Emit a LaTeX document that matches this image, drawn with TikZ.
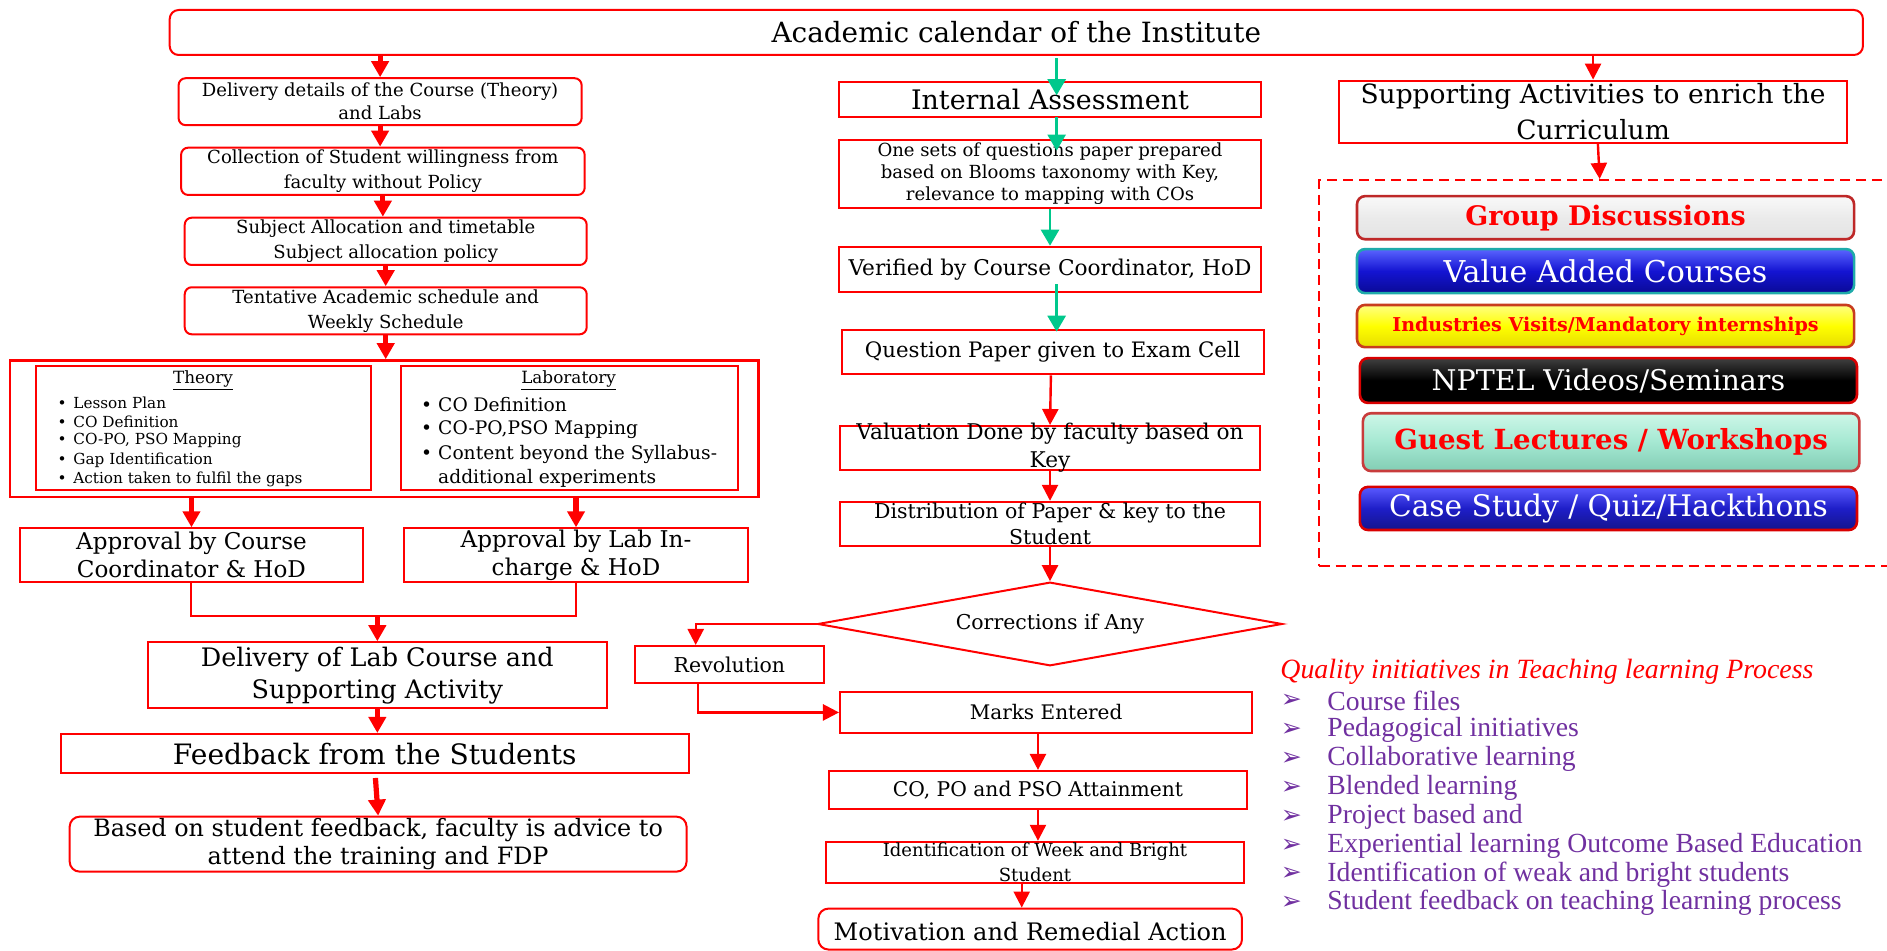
\documentclass[tikz,border=0pt]{standalone}
\usepackage{fontspec}
\setmainfont{DejaVu Serif}
\newfontfamily\listfont{Liberation Serif}
\newfontfamily\symfont{DejaVu Sans}
\usetikzlibrary{arrows.meta,shapes.geometric,fit,calc}
\definecolor{arrowgreen}{RGB}{0,200,140}
\definecolor{listpurple}{RGB}{112,48,160}
\definecolor{gdborder}{RGB}{190,40,40}
\definecolor{vaborder}{RGB}{30,170,170}
\definecolor{vatop}{RGB}{90,100,255}
\definecolor{vamid}{RGB}{20,20,210}
\definecolor{vabot}{RGB}{10,10,150}
\definecolor{ivborder}{RGB}{200,60,30}
\definecolor{ivtop}{RGB}{255,255,130}
\definecolor{ivbot}{RGB}{230,220,0}
\definecolor{gltop}{RGB}{205,247,232}
\definecolor{glmid}{RGB}{165,232,210}
\definecolor{glbot}{RGB}{130,205,180}
\definecolor{glborder}{RGB}{200,60,60}
\definecolor{cstop}{RGB}{90,90,255}
\definecolor{csmid}{RGB}{30,30,200}
\definecolor{csbot}{RGB}{20,20,140}
\newcommand{\fsz}[2]{\fontsize{#1pt}{#2pt}\selectfont}

\begin{document}
\begin{tikzpicture}[x=0.6pt,y=-0.6pt,
  box/.style={draw=red, line width=1pt, inner sep=0pt},
  rbox/.style={box, rounded corners=3.5pt},
  txt/.style={align=center, inner sep=0pt},
  link/.style={draw=red, line width=1pt},
  arr/.style={draw=red, line width=2.6pt, -{Triangle[length=8pt,width=8.5pt]}},
  tarr/.style={draw=red, line width=1.2pt, -{Triangle[length=8pt,width=8pt]}},
  garr/.style={draw=arrowgreen, line width=1.3pt, -{Triangle[length=8pt,width=9pt]}},
  btn/.style={rounded corners=4pt, line width=1.3pt, inner sep=0pt},
  btntxt/.style={inner sep=0pt},
  bul/.style={anchor=west, inner sep=0pt},
]
\useasboundingbox (0,0) rectangle (1568,790);

% ---------- title ----------
\node[rbox, rounded corners=4.5pt, fit={(141,8.3)(1548,45.7)}] (cal) {};
\node[txt, font=\fsz{13.9}{16}] (calt) at (cal.center) {Academic calendar of the Institute};

% ---------- left column ----------
\node[rbox, fit={(148.4,65)(483.3,104)}] (a1) {};
\node[txt, font=\fsz{9}{11.5}] (a1t) at (a1.center) {Delivery details of the Course (Theory)\\and Labs};
\node[rbox, fit={(150.5,122.7)(485.8,162)}] (a2) {};
\node[txt, font=\fsz{9}{12.5}] (a2t) at (a2.center) {Collection of Student willingness from\\faculty without Policy};
\node[rbox, fit={(153.5,180.9)(487.5,220.2)}] (a3) {};
\node[txt, font=\fsz{9}{12.5}] (a3t) at (a3.center) {Subject Allocation and timetable\\Subject allocation policy};
\node[rbox, fit={(153.5,238.7)(487.5,277.8)}] (a4) {};
\node[txt, font=\fsz{9}{12.5}] (a4t) at (a4.center) {Tentative Academic schedule and\\Weekly Schedule};

\node[box, line width=1.2pt, fit={(8.3,299.5)(630.4,413)}] (big) {};
\node[box, fit={(29.8,303.8)(308,407.5)}] (th) {};
\node[box, fit={(332.8,304.5)(613,407)}] (lab) {};

\node[txt, font=\fsz{8.4}{10}] (tht) at (168.7,316.3) {\underline{Theory}};
\foreach \yy/\itm in {334.6/Lesson Plan, 350.4/CO Definition, 366.2/{CO-PO, PSO Mapping}, 382.2/Gap Identification, 398.3/Action taken to fulfil the gaps}
  \node[bul, font=\fsz{7.6}{9}] (thi\yy) at (47.5,\yy) {\makebox[7.9pt][l]{\textbullet}\itm};

\node[txt, font=\fsz{8.4}{10}] (labt) at (472.5,316.3) {\underline{Laboratory}};
\foreach \yy/\itm in {336.5/CO Definition, 356.7/{CO-PO,PSO Mapping}, 378/Content beyond the Syllabus-}
  \node[bul, font=\fsz{9.3}{11}] (labi\yy) at (349.5,\yy) {\makebox[8.6pt][l]{\textbullet}\itm};
\node[bul, font=\fsz{9.3}{11}] (labx) at (363.8,397.5) {additional experiments};

\node[box, fit={(16.5,439)(301.7,483.9)}] (ap1) {};
\node[txt, font=\fsz{11.5}{14}] (ap1t) at (ap1.center) {Approval by Course\\Coordinator \& HoD};
\node[box, fit={(336,439)(621.3,483.9)}] (ap2) {};
\node[txt, font=\fsz{11.5}{14}] (ap2t) at (ap2.center) {Approval by Lab In-\\charge \& HoD};

\node[box, fit={(122.8,533.7)(504.3,588.5)}] (dl) {};
\node[txt, font=\fsz{12.7}{16}] (dlt) at (dl.center) {Delivery of Lab Course and\\Supporting Activity};
\node[box, fit={(50.4,609.9)(572.5,642.6)}] (fb) {};
\node[txt, font=\fsz{14}{16}] (fbt) at (fb.center) {Feedback from the Students};
\node[rbox, rounded corners=5pt, fit={(57.9,678.6)(570.5,724.3)}] (adv) {};
\node[txt, font=\fsz{11.9}{14.2}] (advt) at (adv.center) {Based on student feedback, faculty is advice to\\attend the training and FDP};

\draw[arr] (cal.south -| a1.north) -- (a1.north);
\draw[arr] (a1.south) -- (a1.south |- a2.north);
\draw[arr] (a2.south) -- (a2.south |- a3.north);
\draw[arr] (a3.south) -- (a3.south |- a4.north);
\draw[arr] (a4.south) -- (a4.south |- big.north);
\draw[arr] (ap1.north |- big.south) -- (ap1.north);
\draw[arr] (ap2.north |- big.south) -- (ap2.north);
\coordinate (jn) at ($(ap1.south)!0.5!(ap2.south)+(0,27)$);
\draw[link] (ap1.south) |- (jn) -| (ap2.south);
\draw[arr] (jn -| dl.north) -- (dl.north);
\draw[arr] (dl.south) -- (dl.south |- fb.north);
\draw[arr] ($(fb.south)+(0.5,3)$) -- (adv.north);

% ---------- middle column ----------
\node[box, fit={(697,68)(1048,97)}] (m1) {};
\node[txt, font=\fsz{13.4}{16}] (m1t) at (m1.center) {Internal Assessment};
\node[box, fit={(697,116)(1048,173)}] (m2) {};
\node[txt, font=\fsz{9}{11}] (m2t) at (m2.center) {One sets of questions paper prepared\\based on Blooms taxonomy with Key,\\relevance to mapping with COs};
\node[box, fit={(697,205)(1048,242.5)}] (m3) {};
\node[txt, font=\fsz{10.8}{13}] (m3t) at (m3.center) {Verified by Course Coordinator, HoD};
\node[box, fit={(699.5,274)(1050,311)}] (m4) {};
\node[txt, font=\fsz{10.6}{13}] (m4t) at (m4.center) {Question Paper given to Exam Cell};
\node[box, fit={(698,354)(1047,390.5)}] (m5) {};
\node[txt, font=\fsz{10.8}{13.8}] (m5t) at (m5.center) {Valuation Done by faculty based on\\Key};
\node[box, fit={(698,417)(1047,453.7)}] (m6) {};
\node[txt, font=\fsz{10.2}{12.6}] (m6t) at (m6.center) {Distribution of Paper \& key to the\\Student};
\node[diamond, draw=red, line width=1pt, inner sep=0pt, aspect=5.5,
      minimum width=231.6pt, minimum height=41.7pt, font=\fsz{10.2}{12}] (dia) at (872.5,518.5) {Corrections if Any};
\node[box, fit={(527.6,536.8)(684.6,567.7)}] (rev) {};
\node[txt, font=\fsz{10.2}{12}] (revt) at (rev.center) {Revolution};
\node[box, fit={(698,575)(1040.5,609)}] (marks) {};
\node[txt, font=\fsz{10}{12}] (markst) at (marks.center) {Marks Entered};
\node[box, fit={(689,640.6)(1036,672)}] (att) {};
\node[txt, font=\fsz{10.1}{12}] (attt) at (att.center) {CO, PO and PSO Attainment};
\node[box, fit={(686,699.5)(1034,733.5)}] (idn) {};
\node[txt, font=\fsz{9}{12.6}] (idnt) at (idn.center) {Identification of Week and Bright\\Student};
\node[rbox, rounded corners=5pt, fit={(680,755)(1032,789)}] (mot) {};
\node[txt, font=\fsz{12}{14}] (mott) at ($(mot.center)+(0,2)$) {Motivation and Remedial Action};

\draw[garr] ($(cal.south -| m1.north)+(5.5,2)$) -- ($(m1.north)+(5.5,12)$);
\draw[garr] ($(m1.south)+(5.5,-1)$) -- ($(m2.north)+(5.5,10)$);
\draw[garr] (m2.south) -- (m3.north);
\draw[garr] ($(m3.south)+(5.5,-7)$) -- ($(m3.south |- m4.north)+(5.5,2.5)$);
\draw[tarr] ($(m4.south)+(-1.5,0)$) -- (m5.north);
\draw[tarr] (m5.south) -- (m6.north);
\draw[tarr] (m6.south) -- (dia.north);
\draw[tarr] (dia.west) -| ($(rev.north)+(-28,0)$);
\draw[tarr] ($(rev.south)+(-26,0)$) |- (marks.west);
\draw[tarr] (marks.south -| att.north) -- (att.north);
\draw[tarr] (att.south) -- (att.south |- idn.north);
\draw[tarr] ($(idn.south)+(-11,0)$) -- ($(idn.south |- mot.north)+(-11,0)$);

% ---------- right column ----------
\node[box, fit={(1112.5,67)(1535,119)}] (r1) {};
\node[txt, font=\fsz{13.2}{18}] (r1t) at (r1.center) {Supporting Activities to enrich the\\Curriculum};
\node[draw=red, line width=1pt, dash pattern=on 5pt off 3pt, inner sep=0pt,
      fit={(1096.4,149.6)(1610,470)}] (acts) {};
\draw[tarr] (cal.south -| r1.north) -- (r1.north);
\draw[tarr] ($(r1.south)+(4,0)$) -- ($(r1.south |- acts.north)+(5.5,0)$);

\node[btn, draw=gdborder, top color=gray!5, bottom color=gray!22, middle color=gray!16,
      fit={(1127.6,163)(1540.6,198.8)}] (b1) {};
\node[btntxt, font=\bfseries\fsz{13.4}{15}, text=red] (b1t) at (b1.center) {Group Discussions};
\node[btn, draw=vaborder, top color=vatop, bottom color=vabot, middle color=vamid,
      fit={(1127.6,207)(1540.6,243.6)}] (b2) {};
\node[btntxt, font=\fsz{15}{17}, text=white] (b2t) at (b2.center) {Value Added Courses};
\node[btn, draw=ivborder, top color=ivtop, bottom color=ivbot, middle color=yellow,
      fit={(1127.6,253.4)(1540.6,288.5)}] (b3) {};
\node[btntxt, font=\bfseries\fsz{9.5}{11}, text=red] (b3t) at (b3.center) {Industries Visits/Mandatory internships};
\node[btn, draw=red!85!black, top color=black!75, bottom color=black, middle color=black,
      fit={(1130,297.6)(1543,334.8)}] (b4) {};
\node[btntxt, font=\fsz{14.2}{16}, text=white] (b4t) at (b4.center) {NPTEL Videos/Seminars};
\node[btn, draw=glborder, top color=gltop, bottom color=glbot, middle color=glmid,
      fit={(1132.5,343.4)(1545,391.4)}] (b5) {};
\node[btntxt, font=\bfseries\fsz{13.8}{16}, text=red] (b5t) at (b5.center) {Guest Lectures / Workshops};
\node[btn, draw=red!85!black, top color=cstop, bottom color=csbot, middle color=csmid,
      fit={(1130,404.6)(1543,440.4)}] (b6) {};
\node[btntxt, font=\fsz{14.8}{16}, text=white] (b6t) at (b6.center) {Case Study / Quiz/Hackthons};

% ---------- quality initiatives ----------
\node[bul, font=\listfont\itshape\fsz{13.9}{16}, text=red] (qh) at (1063.6,558) {Quality initiatives in Teaching learning Process};
\foreach \i/\yy/\itm in {1/582.5/Course files, 2/606.5/Pedagogical initiatives, 3/630.5/Collaborative learning,
    4/654.5/Blended learning, 5/678.5/Project based and, 6/702.5/Experiential learning Outcome Based Education,
    7/726.5/Identification of weak and bright students, 8/750.5/Student feedback on teaching learning process}{
  \node[bul, font=\symfont\fsz{12.5}{13}, text=listpurple] (qb\i) at (1064,\yy) {➢};
  \node[bul, font=\listfont\fsz{13.8}{16}, text=listpurple] (qi\i) at (1102.7,\yy) {\itm};
}
\end{tikzpicture}
\end{document}
